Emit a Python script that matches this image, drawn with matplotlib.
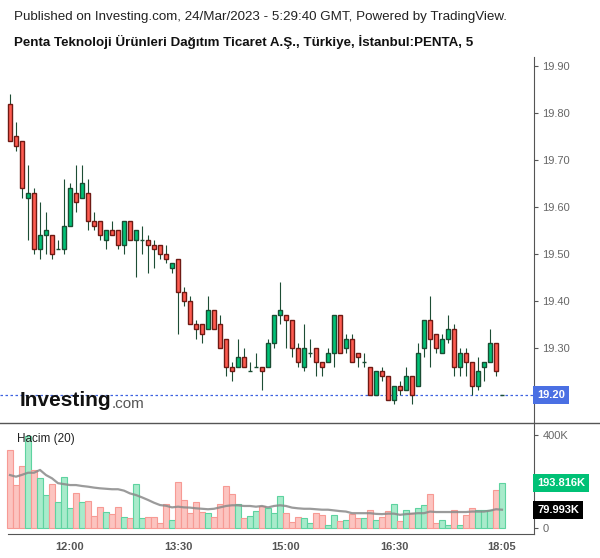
import matplotlib.pyplot as plt
from matplotlib.lines import Line2D

plt.rcParams['font.family'] = ['Liberation Sans', 'DejaVu Sans']

# 5-minute candles, PENTA, 24 Mar 2023 (11:10 .. 18:05)
opens = [19.82, 19.75, 19.74, 19.62, 19.63, 19.51, 19.54, 19.54, 19.51, 19.51,
         19.56, 19.63, 19.62, 19.63, 19.57, 19.57, 19.53, 19.55, 19.55, 19.52,
         19.57, 19.53, 19.53, 19.53, 19.52, 19.52, 19.50, 19.47, 19.49, 19.42,
         19.40, 19.35, 19.35, 19.34, 19.38, 19.35, 19.32, 19.26, 19.26, 19.28,
         19.25, 19.26, 19.26, 19.26, 19.31, 19.37, 19.37, 19.36, 19.30, 19.26,
         19.29, 19.30, 19.27, 19.27, 19.29, 19.37, 19.30, 19.32, 19.29, 19.27,
         19.26, 19.20, 19.25, 19.24, 19.19, 19.22, 19.21, 19.24, 19.22, 19.30,
         19.36, 19.33, 19.29, 19.32, 19.34, 19.26, 19.29, 19.27, 19.22, 19.26,
         19.27, 19.31, 19.20]
highs = [19.84, 19.78, 19.74, 19.69, 19.64, 19.61, 19.59, 19.54, 19.53, 19.66,
         19.65, 19.69, 19.69, 19.66, 19.59, 19.57, 19.55, 19.57, 19.55, 19.57,
         19.57, 19.55, 19.56, 19.54, 19.53, 19.52, 19.52, 19.48, 19.49, 19.43,
         19.41, 19.36, 19.35, 19.41, 19.38, 19.37, 19.32, 19.27, 19.32, 19.30,
         19.27, 19.29, 19.26, 19.32, 19.37, 19.44, 19.37, 19.36, 19.31, 19.35,
         19.32, 19.30, 19.27, 19.30, 19.37, 19.37, 19.33, 19.33, 19.29, 19.29,
         19.26, 19.25, 19.26, 19.24, 19.22, 19.23, 19.26, 19.24, 19.31, 19.36,
         19.41, 19.33, 19.33, 19.37, 19.35, 19.30, 19.30, 19.27, 19.28, 19.27,
         19.34, 19.31, 19.20]
lows = [19.74, 19.72, 19.62, 19.53, 19.50, 19.49, 19.50, 19.49, 19.51, 19.50,
        19.56, 19.59, 19.62, 19.55, 19.55, 19.53, 19.51, 19.54, 19.51, 19.50,
        19.53, 19.45, 19.50, 19.46, 19.47, 19.49, 19.48, 19.46, 19.33, 19.39,
        19.35, 19.32, 19.31, 19.34, 19.34, 19.30, 19.24, 19.23, 19.26, 19.26,
        19.25, 19.26, 19.21, 19.26, 19.30, 19.35, 19.30, 19.28, 19.26, 19.25,
        19.28, 19.24, 19.24, 19.27, 19.26, 19.29, 19.29, 19.27, 19.26, 19.26,
        19.20, 19.20, 19.23, 19.19, 19.18, 19.20, 19.21, 19.18, 19.22, 19.28,
        19.26, 19.29, 19.29, 19.31, 19.24, 19.24, 19.24, 19.20, 19.21, 19.23,
        19.27, 19.24, 19.20]
closes = [19.74, 19.73, 19.64, 19.63, 19.51, 19.54, 19.55, 19.50, 19.51, 19.56,
          19.64, 19.61, 19.65, 19.57, 19.56, 19.54, 19.55, 19.54, 19.52, 19.57,
          19.53, 19.55, 19.53, 19.52, 19.51, 19.50, 19.49, 19.48, 19.42, 19.40,
          19.35, 19.34, 19.33, 19.38, 19.34, 19.30, 19.26, 19.25, 19.28, 19.26,
          19.25, 19.26, 19.25, 19.31, 19.37, 19.38, 19.36, 19.30, 19.27, 19.30,
          19.29, 19.27, 19.26, 19.29, 19.37, 19.29, 19.32, 19.27, 19.28, 19.27,
          19.20, 19.25, 19.24, 19.19, 19.22, 19.21, 19.24, 19.20, 19.29, 19.36,
          19.32, 19.30, 19.32, 19.34, 19.26, 19.29, 19.27, 19.22, 19.25, 19.27,
          19.31, 19.25, 19.20]

# volume in thousands and its 20-bar average
volumes = [337, 186, 268, 398, 251, 215, 143, 190, 115, 219,
           86, 150, 115, 117, 53, 90, 72, 62, 90, 47,
           43, 190, 43, 47, 47, 22, 103, 36, 199, 122,
           65, 113, 70, 65, 49, 103, 182, 148, 103, 43,
           55, 74, 96, 89, 65, 139, 65, 26, 47, 43,
           22, 65, 58, 16, 58, 30, 36, 62, 43, 43,
           80, 36, 47, 74, 106, 30, 77, 65, 86, 99,
           148, 24, 36, 16, 80, 16, 58, 86, 77, 77,
           77, 165, 193.816]
vol_ma = [229, 222, 230, 239, 239, 251, 229, 215, 194, 190,
          186, 186, 182, 179, 175, 172, 170, 168, 168, 162,
          150, 143, 133, 122, 110, 100, 97, 90, 93, 90,
          89, 86, 84, 82, 84, 90, 96, 99, 99, 96,
          96, 93, 96, 90, 96, 99, 96, 89, 86, 84,
          84, 82, 80, 80, 77, 74, 72, 65, 65, 65,
          65, 62, 61, 63, 63, 58, 61, 63, 65, 65,
          72, 70, 70, 70, 70, 70, 70, 72, 72, 72,
          76, 82, 79.993]

tick_pos = [10, 28, 46, 64, 82]
tick_labels = ['12:00', '13:30', '15:00', '16:30', '18:05']
price_ticks = [19.30, 19.40, 19.50, 19.60, 19.70, 19.80, 19.90]
last_price = 19.20

W, H = 600, 558
fig = plt.figure(figsize=(W / 100, H / 100), dpi=100)


def fy(py):
    return 1 - py / H


ax = fig.add_axes([0, fy(423), 534 / W, (423 - 57) / H])
vax = fig.add_axes([0, fy(534), 534 / W, (534 - 423) / H])

x = list(range(len(opens)))
xmin, xmax = -10 / 6, 524 / 6

# candles
up = [c >= o for o, c in zip(opens, closes)]
ax.vlines(x, lows, highs, color='#1d4d35', lw=0.8, zorder=2)
ax.bar(x, [abs(c - o) for o, c in zip(opens, closes)],
       bottom=[min(o, c) for o, c in zip(opens, closes)], width=0.72,
       color=['#00c176' if u else '#ff5b50' for u in up],
       edgecolor=['#1a4d33' if u else '#6e1a14' for u in up],
       lw=1.0, zorder=3)

ax.axhline(last_price, color='#3d62e0', ls=(0, (2, 2)), lw=0.9, zorder=1)
ax.set_xlim(xmin, xmax)
ax.set_ylim(19.1404, 19.9191)
for s in ['top', 'left', 'bottom']:
    ax.spines[s].set_visible(False)
ax.spines['right'].set_color('#555555')
ax.set_xticks([])
ax.yaxis.tick_right()
ax.set_yticks(price_ticks)
ax.set_yticklabels(['%.2f' % p for p in price_ticks])
ax.tick_params(axis='y', direction='out', length=3, color='#555555',
               labelcolor='#666666', labelsize=8, pad=3)
ax.text(1.006, last_price, '%.2f' % last_price, transform=ax.get_yaxis_transform(),
        ha='left', va='center', color='white', fontsize=8, fontweight='bold',
        bbox=dict(boxstyle='square,pad=0.35', fc='#4a6fe3', ec='none'))

# volume
vax.bar(x, volumes, width=0.88,
        color=['#a8ebcb' if u else '#fcc4c0' for u in up],
        edgecolor=['#5ed3a0' if u else '#f79a94' for u in up], lw=0.8)
vax.plot(x, vol_ma, color='#8a8a8a', lw=1.6, alpha=0.85)
vax.set_xlim(xmin, xmax)
vax.set_ylim(-24.5, 452.9)
vax.spines['top'].set_visible(False)
vax.spines['left'].set_visible(False)
vax.spines['right'].set_color('#555555')
vax.spines['bottom'].set_color('#555555')
vax.spines['bottom'].set_bounds(-1 / 3, xmax)
vax.yaxis.tick_right()
vax.set_yticks([0, 400])
vax.set_yticklabels(['0', '400K'])
vax.tick_params(axis='y', direction='out', length=3, color='#555555',
                labelcolor='#666666', labelsize=8, pad=3)
vax.set_xticks(tick_pos)
vax.set_xticklabels(tick_labels, fontweight='bold')
vax.tick_params(axis='x', length=0, labelcolor='#555555', labelsize=8, pad=6)
vax.text(1.006, volumes[-1], '193.816K', transform=vax.get_yaxis_transform(),
         ha='left', va='center', color='white', fontsize=8, fontweight='bold',
         bbox=dict(boxstyle='square,pad=0.35', fc='#00c176', ec='none'))
vax.text(1.006, vol_ma[-1], '79.993K', transform=vax.get_yaxis_transform(),
         ha='left', va='center', color='white', fontsize=8, fontweight='bold',
         bbox=dict(boxstyle='square,pad=0.35', fc='black', ec='none'))
fig.text(17 / W, fy(439), 'Hacim (20)', fontsize=8.5, color='#222222', va='center')

# separator between panes
fig.add_artist(Line2D([0, 1], [fy(423), fy(423)], color='#555555', lw=1))

# header
fig.text(14 / W, fy(17), 'Published on Investing.com, 24/Mar/2023 - 5:29:40 GMT, Powered by TradingView.',
         fontsize=9.6, color='#222222', va='center')
fig.text(14 / W, fy(42), 'Penta Teknoloji Ürünleri Dağıtım Ticaret A.Ş., Türkiye, İstanbul:PENTA, 5',
         fontsize=9.6, fontweight='bold', color='#111111', va='center')

# watermark logo
logo = fig.text(20 / W, fy(401), 'Investing', fontsize=15, fontweight='bold',
                color='#111111', va='center')
fig.canvas.draw()
bb = logo.get_window_extent()
fig.text(bb.x1 / W, fy(404), '.com', fontsize=11, color='#555555', va='center')

fig.savefig('out.png', dpi=100)
